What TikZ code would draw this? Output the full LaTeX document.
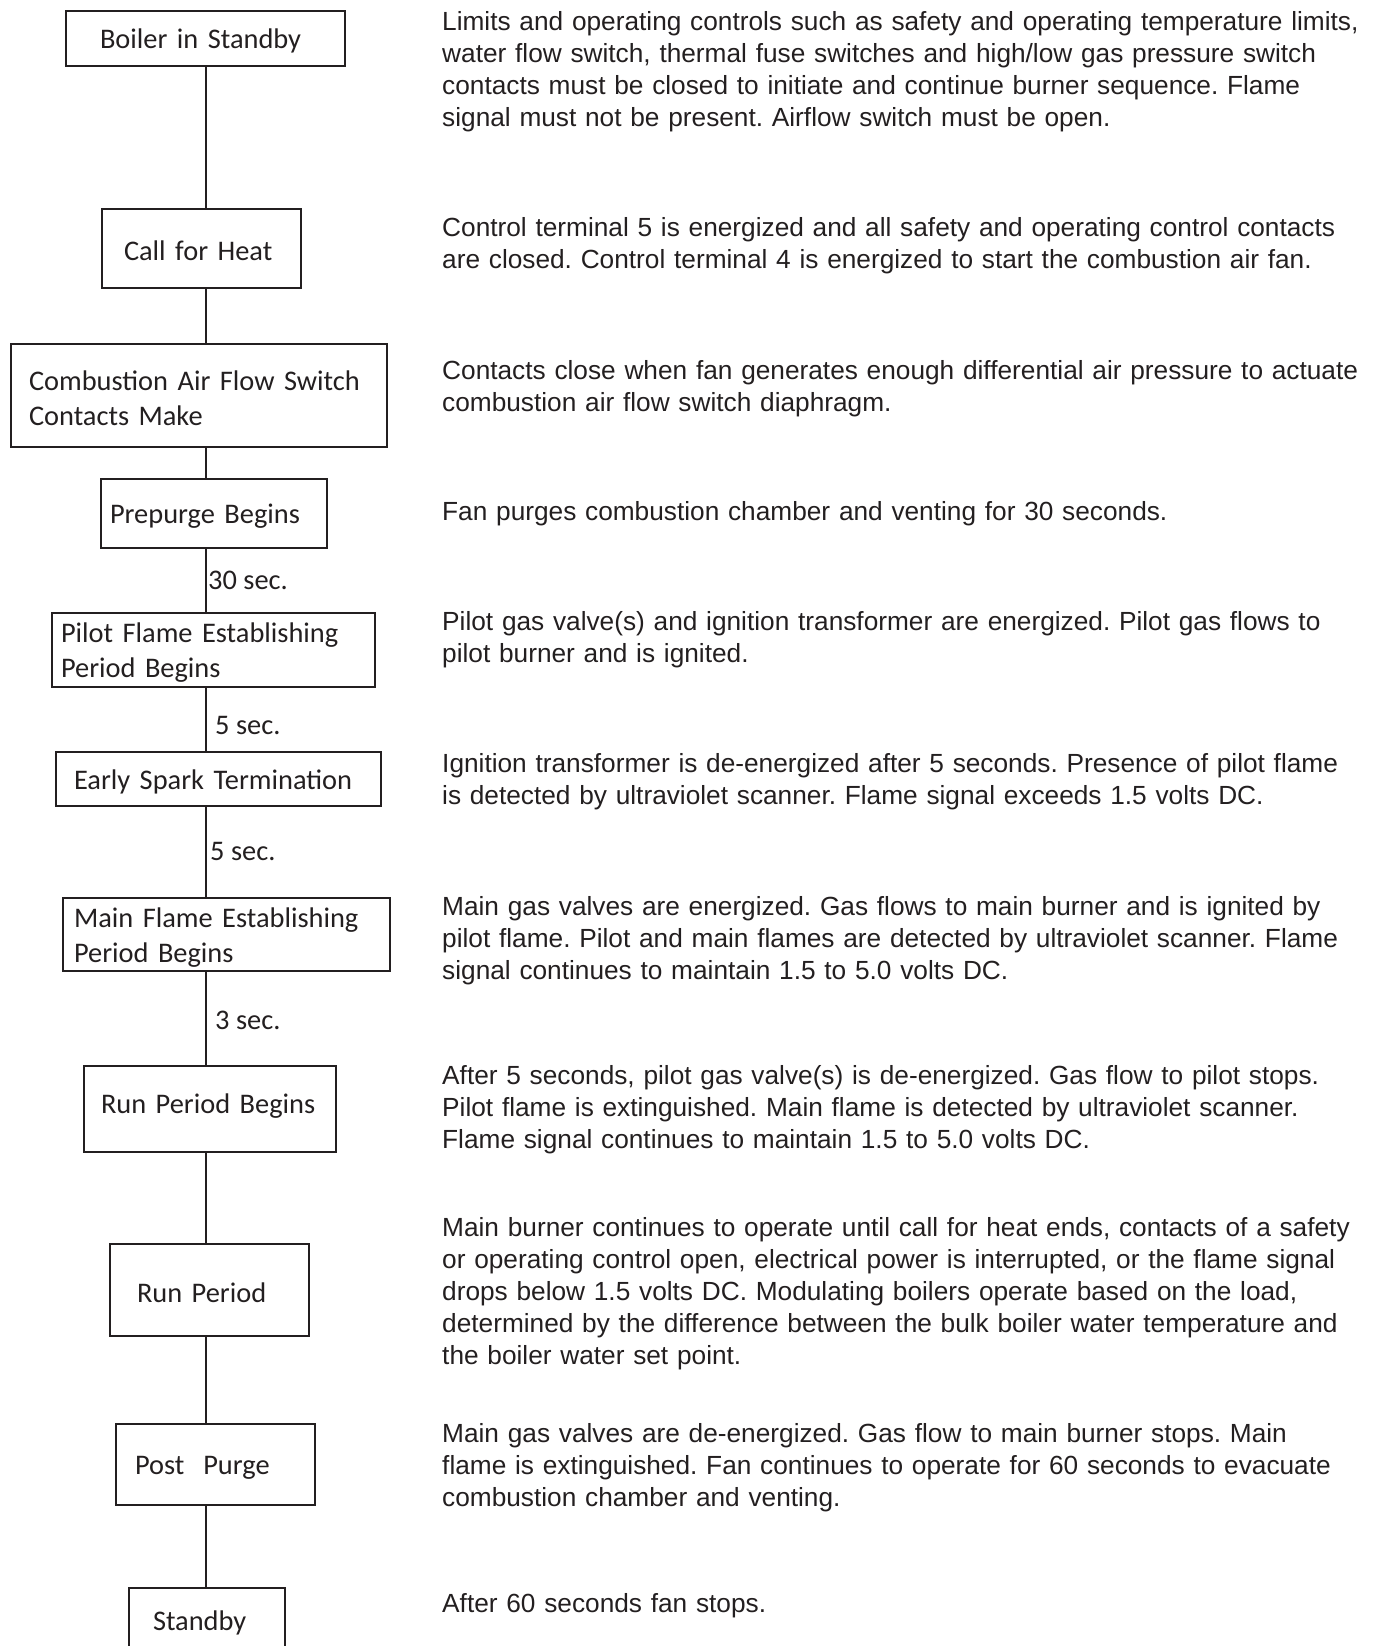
\documentclass[tikz,border=0pt]{standalone}
\usepackage{fontspec}
\setmainfont{Liberation Sans}
\newfontfamily\boxfont{Carlito}
\definecolor{ink}{RGB}{35,31,32}
\frenchspacing

\begin{document}
\begin{tikzpicture}[x=1pt, y=-1pt, color=ink,
    stage/.style={draw, line width=2pt, align=left,
                  font=\boxfont\fontsize{28.4}{35}\selectfont,
                  execute at begin node={\rule{0pt}{25pt}}},
    note/.style={anchor=north west, inner sep=0pt, align=left, text width=940pt,
                 font=\fontsize{26.25}{32}\selectfont},
    delay/.style={anchor=west, inner sep=0pt,
                  font=\boxfont\fontsize{28.4}{35}\selectfont},
    link/.style={line width=2pt},
  ]
  \clip (0,0) rectangle (1374,1646);
  \coordinate (spine) at (206,0);

  % sequence boxes
  \node[stage, text width=211pt, inner xsep=34pt, minimum height=55pt] (idle) at (205.5,38.5) {Boiler~in~Standby};
  \node[stage, text width=155pt, inner xsep=22pt, minimum height=79pt] (heat) at (201.5,248.5) {Call~for~Heat};
  \node[stage, text width=340pt, inner xsep=18pt, minimum height=103pt] (airflow) at (199,395.5) {Combustion~Air~Flow~Switch\\Contacts~Make};
  \node[stage, text width=208pt, inner xsep=9pt, minimum height=69pt] (prepurge) at (214,513.5) {Prepurge~Begins};
  \node[stage, text width=305pt, inner xsep=9pt, minimum height=74pt] (pilot) at (213.5,650) {Pilot~Flame~Establishing\\Period~Begins};
  \node[stage, text width=289pt, inner xsep=18pt, minimum height=54pt] (spark) at (218.5,779) {Early~Spark~Termination};
  \node[stage, text width=305pt, inner xsep=11pt, minimum height=73pt] (mainflame) at (226.5,934.5) {Main~Flame~Establishing\\Period~Begins};
  \node[stage, text width=218pt, inner xsep=17pt, minimum height=86pt,
        execute at begin node={\rule[-17pt]{0pt}{25pt}}] (runstart) at (210,1109) {Run~Period~Begins};
  \node[stage, text width=145pt, inner xsep=27pt, minimum height=92pt] (run) at (209.5,1290) {Run~Period};
  \node[stage, text width=161pt, inner xsep=19pt, minimum height=81pt] (postpurge) at (215.5,1464.5) {Post~~Purge};
  \node[stage, text width=108pt, inner xsep=24pt, inner ysep=22pt, text height=20pt, text depth=200pt, anchor=north] (standby) at (207,1587) {Standby};

  % connectors
  \draw[link] (idle.south -| spine) -- (heat.north -| spine);
  \draw[link] (heat.south -| spine) -- (airflow.north -| spine);
  \draw[link] (airflow.south -| spine) -- (prepurge.north -| spine);
  \draw[link] (prepurge.south -| spine) -- (pilot.north -| spine);
  \draw[link] (pilot.south -| spine) -- (spark.north -| spine);
  \draw[link] (spark.south -| spine) -- (mainflame.north -| spine);
  \draw[link] (mainflame.south -| spine) -- (runstart.north -| spine);
  \draw[link] (runstart.south -| spine) -- (run.north -| spine);
  \draw[link] (run.south -| spine) -- (postpurge.north -| spine);
  \draw[link] (postpurge.south -| spine) -- (standby.north -| spine);

  % timings
  \node[delay] (t-prepurge) at (208,580) {30 sec.};
  \node[delay] (t-pilot) at (215,725) {5 sec.};
  \node[delay] (t-spark) at (210,851) {5 sec.};
  \node[delay] (t-mainflame) at (215,1020) {3 sec.};

  % descriptions
  \node[note] (idle-note) at (442,11) {Limits and operating controls such as safety and operating temperature limits,\\
    water flow switch, thermal fuse switches and high/low gas pressure switch\\
    contacts must be closed to initiate and continue burner sequence. Flame\\
    signal must not be present. Airflow switch must be open.};
  \node[note] (heat-note) at (442,217) {Control terminal 5 is energized and all safety and operating control contacts\\
    are closed. Control terminal 4 is energized to start the combustion air fan.};
  \node[note] (airflow-note) at (442,360) {Contacts close when fan generates enough differential air pressure to actuate\\
    combustion air flow switch diaphragm.};
  \node[note] (prepurge-note) at (442,501) {Fan purges combustion chamber and venting for 30 seconds.};
  \node[note] (pilot-note) at (442,611) {Pilot gas valve(s) and ignition transformer are energized. Pilot gas flows to\\
    pilot burner and is ignited.};
  \node[note] (spark-note) at (442,753) {Ignition transformer is de-energized after 5 seconds. Presence of pilot flame\\
    is detected by ultraviolet scanner. Flame signal exceeds 1.5 volts DC.};
  \node[note] (mainflame-note) at (442,896) {Main gas valves are energized. Gas flows to main burner and is ignited by\\
    pilot flame. Pilot and main flames are detected by ultraviolet scanner. Flame\\
    signal continues to maintain 1.5 to 5.0 volts DC.};
  \node[note] (runstart-note) at (442,1065) {After 5 seconds, pilot gas valve(s) is de-energized. Gas flow to pilot stops.\\
    Pilot flame is extinguished. Main flame is detected by ultraviolet scanner.\\
    Flame signal continues to maintain 1.5 to 5.0 volts DC.};
  \node[note] (run-note) at (442,1217) {Main burner continues to operate until call for heat ends, contacts of a safety\\
    or operating control open, electrical power is interrupted, or the flame signal\\
    drops below 1.5 volts DC. Modulating boilers operate based on the load,\\
    determined by the difference between the bulk boiler water temperature and\\
    the boiler water set point.};
  \node[note] (postpurge-note) at (442,1423) {Main gas valves are de-energized. Gas flow to main burner stops. Main\\
    flame is extinguished. Fan continues to operate for 60 seconds to evacuate\\
    combustion chamber and venting.};
  \node[note] (standby-note) at (442,1593) {After 60 seconds fan stops.};
\end{tikzpicture}
\end{document}
